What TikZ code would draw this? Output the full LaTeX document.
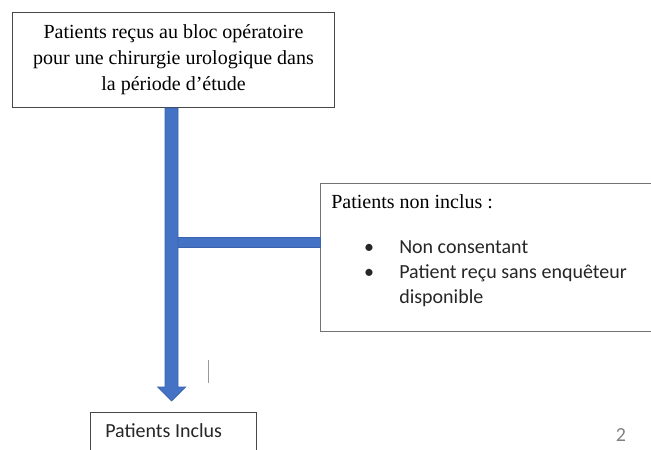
\documentclass[tikz,border=0pt]{standalone}
\usepackage{fontspec}
\setmainfont{Liberation Serif}
\newfontfamily\calibrifont{Carlito}
\usetikzlibrary{calc}
\definecolor{arrowblue}{HTML}{4472C4}
\definecolor{arrowedge}{HTML}{3A62AE}
\begin{document}
\begin{tikzpicture}[x=0.75pt,y=-0.75pt,
  box/.style={draw=black!72, line width=0.8pt, fill=white, inner sep=0pt, anchor=north west},
  serif/.style={inner sep=0pt, font=\fontsize{15pt}{19.5pt}\selectfont},
  sans/.style={inner sep=0pt, font=\calibrifont\fontsize{15pt}{18.3pt}\selectfont, text=black!85},
  bluebar/.style={fill=arrowblue, draw=arrowedge, line width=0.5pt}]
\useasboundingbox (0,0) rectangle (651,450);
\clip (0,0) rectangle (651,450);

% boxes
\node[box, minimum width=241.5pt, minimum height=71.25pt, align=center,
      font=\fontsize{15pt}{19.5pt}\selectfont] (top) at (12,12)
  {Patients reçus au bloc opératoire\\pour une chirurgie urologique dans\\la période d’étude};
\node[box, draw=black!55, minimum width=255pt, minimum height=111pt] (nonin) at (320,183) {};
\node[box, minimum width=124.5pt, minimum height=36pt] (incl) at (90,412) {};

% texts of the right box
\node[serif, anchor=base west] (nonintitle) at (331,208) {Patients non inclus :};
\node[sans, anchor=base] (b1) at (369,253) {•};
\node[sans, anchor=base] (b2) at (369,278) {•};
\node[sans, anchor=base west] (l1) at (399,253) {Non consentant};
\node[sans, anchor=base west] (l2) at (399,278) {Patient reçu sans enquêteur};
\node[sans, anchor=base west] (l3) at (399,303) {disponible};

% bottom box text
\node[sans, anchor=base west] (incltext) at (105,437) {Patients Inclus};

% page number
\node[sans, anchor=base, text=black!50] (pagenum) at (621,441) {2};

% arrow geometry
\coordinate (s) at ($(top.south)+(-2,0)$);
\coordinate (t) at ($(incl.north)+(-2,-11)$);
\coordinate (b) at ($(nonin.west)+(0,-15)$);
\coordinate (bj) at (s |- b);

% branch to the right box
\draw[bluebar] ($(bj)+(6,-5)$) rectangle ($(b)+(0,5)$);

% main arrow
\draw[bluebar] ($(s)+(-6.5,0)$) -- ($(s)+(6.5,0)$) -- ($(t)+(6.5,-14)$) -- ($(t)+(14,-14)$)
  -- (t) -- ($(t)+(-14,-14)$) -- ($(t)+(-6.5,-14)$) -- cycle;

% thin grey mark
\coordinate (m1) at (208,360);
\coordinate (m2) at (208,383);
\draw[black!40, line width=0.6pt] (m1) -- (m2);
\end{tikzpicture}
\end{document}
